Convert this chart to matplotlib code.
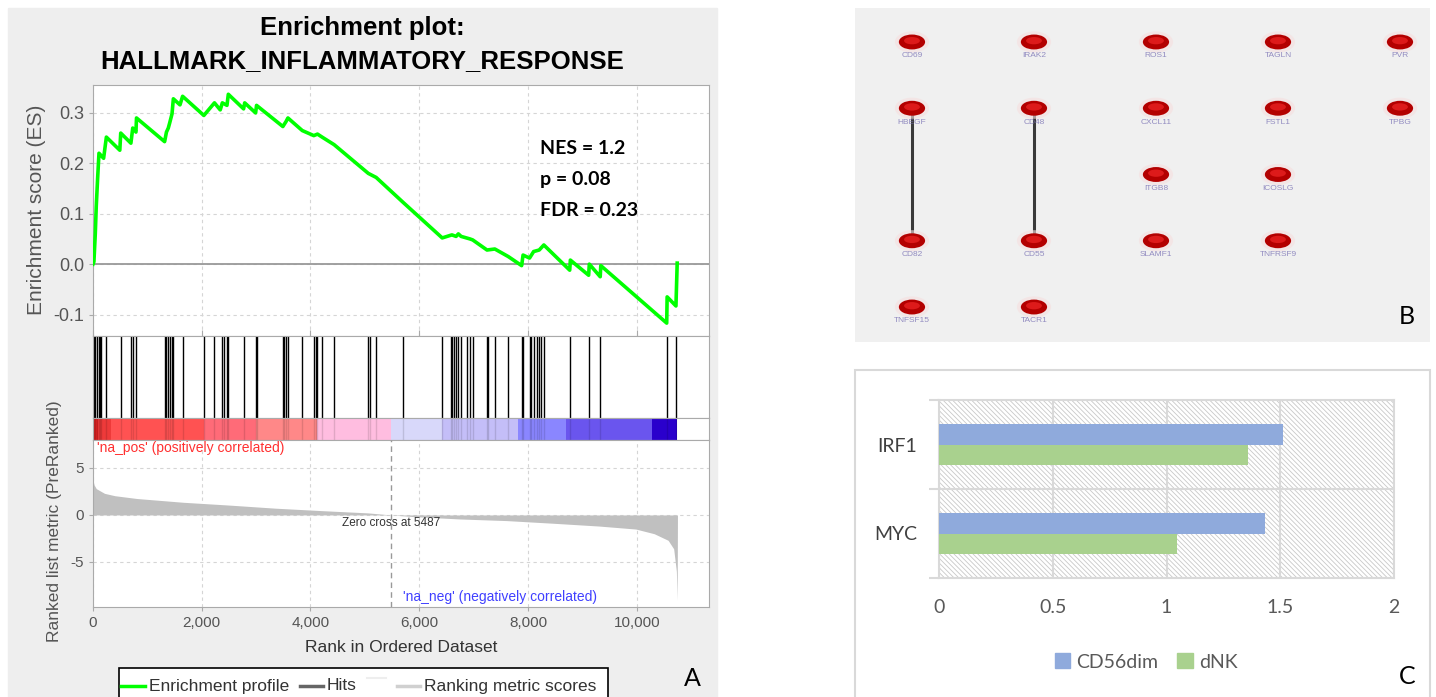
import matplotlib
matplotlib.use("Agg")
import matplotlib.pyplot as plt
from matplotlib.patches import Rectangle, Ellipse, Patch
from matplotlib.lines import Line2D

plt.rcParams['font.family'] = ['Liberation Sans', 'DejaVu Sans']
plt.rcParams['hatch.linewidth'] = 0.6

W, H = 1436, 697

# ---------------- panel A: GSEA enrichment plot ----------------
es_points = [
    (0, 0.0), (17, 0.005), (42, 0.06), (60, 0.115), (85, 0.17), (110, 0.22),
    (195, 0.21), (246, 0.252), (493, 0.226), (510, 0.26), (697, 0.24),
    (731, 0.27), (790, 0.262), (800, 0.29), (1317, 0.243), (1351, 0.262),
    (1385, 0.27), (1410, 0.28), (1453, 0.298), (1478, 0.328), (1600, 0.316),
    (1648, 0.333), (2039, 0.295), (2234, 0.32), (2340, 0.306), (2379, 0.32),
    (2464, 0.315), (2489, 0.337), (2770, 0.308), (2790, 0.32), (2991, 0.3),
    (3008, 0.315), (3492, 0.273), (3551, 0.283), (3585, 0.29), (3849, 0.265),
    (4061, 0.255), (4129, 0.258), (4214, 0.252), (4435, 0.237), (5064, 0.18),
    (5208, 0.172), (5709, 0.122), (6423, 0.052), (6601, 0.058), (6678, 0.055),
    (6720, 0.06), (6771, 0.055), (6933, 0.05), (6984, 0.048), (7247, 0.028),
    (7391, 0.03), (7638, 0.015), (7884, -0.003), (7910, 0.018), (8029, 0.012),
    (8105, 0.025), (8207, 0.028), (8292, 0.038), (8768, -0.012), (8780, 0.008),
    (9116, -0.022), (9129, 0.0), (9329, -0.025), (9340, -0.003),
    (10552, -0.117), (10560, -0.065), (10722, -0.083), (10745, 0.002),
]
es_rank = [p[0] for p in es_points]
es_value = [p[1] for p in es_points]

hit_ranks = [17, 42, 68, 102, 127, 144, 246, 510, 697, 731, 799, 1317, 1351,
             1385, 1410, 1453, 1478, 1648, 2039, 2234, 2379, 2404, 2464, 2489,
             2770, 2991, 3008, 3492, 3517, 3551, 3585, 3849, 4061, 4095, 4129,
             4214, 4435, 5064, 5089, 5208, 5709, 6423, 6576, 6601, 6644, 6678,
             6720, 6771, 6882, 6933, 6984, 7247, 7273, 7391, 7638, 7884, 7910,
             8029, 8054, 8105, 8165, 8207, 8233, 8292, 8768, 9116, 9329, 10552,
             10722]

metric_rank = [0, 20, 60, 212, 400, 807, 1657, 2506, 3356, 4205, 5055, 5487,
               5905, 6755, 7604, 8454, 9303, 9983, 10323, 10578, 10680, 10730,
               10745, 10750]
metric_value = [3.7, 3.2, 2.8, 2.3, 2.05, 1.75, 1.35, 1.05, 0.72, 0.46, 0.22,
                0.0, -0.18, -0.43, -0.6, -0.88, -1.18, -1.5, -2.0, -2.7, -3.6,
                -6.0, -9.1, 0.0]

band_edges = [0, 85, 340, 2039, 2991, 4120, 5487, 6414, 7816, 8691, 10280, 10750]
band_colors = ['#dd2222', '#ee3a3a', '#ff5252', '#ff6b78', '#ff8888', '#ffbde0',
               '#d8d8fa', '#c4bef8', '#8a86ff', '#6a55ee', '#2a00cc']

zero_cross = 5487
es_ticks = [-0.1, 0.0, 0.1, 0.2, 0.3]
metric_ticks = [-5, 0, 5]
rank_ticks = [0, 2000, 4000, 6000, 8000, 10000]
stats_lines = ["NES = 1.2", "p = 0.08", "FDR = 0.23"]

# ---------------- panel B: network ----------------
node_names = ["CD69", "IRAK2", "ROS1", "TAGLN", "PVR",
              "HBEGF", "CD48", "CXCL11", "FSTL1", "TPBG",
              "ITGB8", "ICOSLG",
              "CD82", "CD55", "SLAMF1", "TNFRSF9",
              "TNFSF15", "TACR1"]
node_col = [0, 1, 2, 3, 4, 0, 1, 2, 3, 4, 2, 3, 0, 1, 2, 3, 0, 1]
node_row = [0, 0, 0, 0, 0, 1, 1, 1, 1, 1, 2, 2, 3, 3, 3, 3, 4, 4]
node_edges = [("HBEGF", "CD82"), ("CD48", "CD55")]

# ---------------- panel C: bar chart ----------------
genes_c = ["MYC", "IRF1"]
cd56dim = [1.435, 1.513]
dnk = [1.045, 1.36]
c_ticks = [0, 0.5, 1, 1.5, 2]
c_labels = ["0", "0.5", "1", "1.5", "2"]


def box(x0, y0, x1, y1):
    return [x0 / W, 1 - y1 / H, (x1 - x0) / W, (y1 - y0) / H]


fig = plt.figure(figsize=(W / 100, H / 100), dpi=100)


def ftext(x, y, s, **kw):
    fig.text(x / W, 1 - y / H, s, **kw)


# background of panel A
fig.add_artist(Rectangle((8 / W, 0), (717 - 8) / W, 1 - 8 / H,
                         transform=fig.transFigure, color='#eeeeee', zorder=0))

ftext(362, 28, "Enrichment plot:", ha='center', va='center',
      fontsize=18.5, fontweight='bold', color='black')
ftext(362, 61, "HALLMARK_INFLAMMATORY_RESPONSE", ha='center', va='center',
      fontsize=18.5, fontweight='bold', color='black')

xmax = 11330
spine_col = '#aaaaaa'

# ES curve
ax1 = fig.add_axes(box(93, 85, 709, 336))
ax1.plot(es_rank, es_value, color='#00ff00', lw=2.6, zorder=3)
ax1.axhline(0, color='#999999', lw=1.3, zorder=2)
ax1.set_xlim(0, xmax)
ax1.set_ylim(-0.1426, 0.3554)
ax1.set_xticks(rank_ticks)
ax1.set_yticks(es_ticks)
ax1.set_yticklabels([f"{v:.1f}" for v in es_ticks])
ax1.grid(True, ls=(0, (3, 3)), color='#d5d5d5', lw=0.8)
ax1.tick_params(axis='x', labelbottom=False, direction='in', length=4, color=spine_col)
ax1.tick_params(axis='y', labelsize=13, labelcolor='#555555', length=3, color=spine_col)
for s in ax1.spines.values():
    s.set_color(spine_col)
for y, s in zip([148, 180, 211], stats_lines):
    ftext(540, y, s, ha='left', va='center', fontsize=14, fontweight='bold',
          family=['Lato', 'DejaVu Sans'], color='black')
ftext(37, 210, "Enrichment score (ES)", rotation=90, ha='center', va='center',
      fontsize=15, color='#555555')

# hits
ax2 = fig.add_axes(box(93, 336, 709, 418))
ax2.vlines(hit_ranks, 0, 1, color='black', lw=1)
ax2.set_xlim(0, xmax)
ax2.set_ylim(0, 1)
ax2.set_xticks([])
ax2.set_yticks([])
for s in ax2.spines.values():
    s.set_color(spine_col)

# ranking colour band
ax3 = fig.add_axes(box(93, 418, 709, 440))
for i, c in enumerate(band_colors):
    ax3.axvspan(band_edges[i], band_edges[i + 1], color=c, lw=0)
ax3.vlines(hit_ranks, 0, 1, color='black', lw=1, alpha=0.12)
ax3.set_xlim(0, xmax)
ax3.set_ylim(0, 1)
ax3.set_xticks([])
ax3.set_yticks([])
for s in ax3.spines.values():
    s.set_color(spine_col)

# ranked list metric
ax4 = fig.add_axes(box(93, 440, 709, 607))
ax4.fill_between(metric_rank, metric_value, 0, color='#c0c0c0', lw=0, zorder=2)
ax4.axvline(zero_cross, ls=(0, (4, 3)), color='#999999', lw=1, zorder=3)
ax4.set_xlim(0, xmax)
ax4.set_ylim(-9.8, 7.98)
ax4.set_xticks(rank_ticks)
ax4.set_xticklabels([f"{v:,}" for v in rank_ticks])
ax4.set_yticks(metric_ticks)
ax4.set_yticklabels([str(v) for v in metric_ticks])
ax4.grid(True, ls=(0, (3, 3)), color='#d5d5d5', lw=0.8)
ax4.tick_params(labelsize=11, labelcolor='#555555', length=3, color=spine_col)
for s in ax4.spines.values():
    s.set_color(spine_col)
ax4.text(zero_cross, -0.85, f"Zero cross at {zero_cross}", ha='center',
         va='center', fontsize=8.5, color='#333333', zorder=4)
ax4.text(70, 7.1, "'na_pos' (positively correlated)", ha='left', va='center',
         fontsize=10, color='#ff3030')
ax4.text(5695, -8.7, "'na_neg' (negatively correlated)", ha='left', va='center',
         fontsize=10, color='#4040ff')
ftext(55, 521, "Ranked list metric (PreRanked)", rotation=90, ha='center',
      va='center', fontsize=12.5, color='#555555')
ftext(401, 647, "Rank in Ordered Dataset", ha='center', va='center',
      fontsize=12.5, color='#333333')

# legend box of panel A
fig.add_artist(Rectangle((119 / W, 1 - 710 / H), (608 - 119) / W, (710 - 668) / H,
                         transform=fig.transFigure, facecolor='white',
                         edgecolor='black', lw=1.2, zorder=5))
leg_items = [(121, 145, '#00ff00', "Enrichment profile"),
             (300, 323, '#666666', "Hits"),
             (397, 420, '#d0d0d0', "Ranking metric scores")]
for x0, x1, col, label in leg_items:
    fig.add_artist(Line2D([x0 / W, x1 / W], [1 - 686 / H, 1 - 686 / H],
                          transform=fig.transFigure, color=col, lw=2.5, zorder=6))
    ftext(x1 + 4, 686, label, ha='left', va='center', fontsize=12.5,
          color='#333333', zorder=6)
fig.add_artist(Line2D([367 / W, 386 / W], [1 - 678 / H, 1 - 678 / H],
                      transform=fig.transFigure, color='#eeeeee', lw=1.5, zorder=6))
ftext(692, 678, "A", ha='center', va='center', fontsize=18,
      family=['Lato', 'DejaVu Sans'], color='black')

# ---------------- panel B ----------------
axb = fig.add_axes(box(855, 8, 1430, 342))
axb.set_facecolor('#f0f0f0')
axb.set_xlim(-0.467, 4.246)
axb.set_ylim(4.528, -0.513)
axb.set_xticks([])
axb.set_yticks([])
for s in axb.spines.values():
    s.set_visible(False)
pos = {n: (c, r) for n, c, r in zip(node_names, node_col, node_row)}
for a, b in node_edges:
    axb.plot([pos[a][0], pos[b][0]], [pos[a][1], pos[b][1]],
             color='#3a3a3a', lw=2.2, zorder=1)
for n, c, r in zip(node_names, node_col, node_row):
    axb.add_patch(Ellipse((c, r), 0.28, 0.32, facecolor='#f6dede', lw=0,
                          alpha=0.6, zorder=2))
    axb.add_patch(Ellipse((c, r), 0.215, 0.225, facecolor='#b30000', lw=0, zorder=3))
    axb.add_patch(Ellipse((c, r - 0.02), 0.13, 0.11, facecolor='#dd1a1a', lw=0,
                          zorder=4))
    axb.text(c, r + 0.21, n, ha='center', va='center', fontsize=6,
             color='#7b73b5', alpha=0.8, zorder=5)
ftext(1407, 316, "B", ha='center', va='center', fontsize=18,
      family=['Lato', 'DejaVu Sans'], color='black')

# ---------------- panel C ----------------
fig.add_artist(Rectangle((855 / W, 1 - 705 / H), (1430 - 855) / W, (705 - 370) / H,
                         transform=fig.transFigure, facecolor='white',
                         edgecolor='#d9d9d9', lw=1.5, zorder=0))
axc = fig.add_axes(box(939, 400, 1394, 578))
axc.set_axisbelow(True)
axc.add_patch(Rectangle((0, 0), 1, 1, transform=axc.transAxes, facecolor='white',
                        edgecolor='#c8c8c8', hatch='\\\\\\\\\\\\\\', lw=0, zorder=0))
yc = list(range(len(genes_c)))
axc.barh([y + 0.1125 for y in yc], cd56dim, height=0.225, color='#8faadc', zorder=3)
axc.barh([y - 0.1125 for y in yc], dnk, height=0.225, color='#a9d18e', zorder=3)
axc.set_xlim(0, 2)
axc.set_ylim(-0.5, 1.5)
axc.set_xticks(c_ticks)
axc.set_xticklabels(c_labels)
axc.grid(axis='x', color='#d9d9d9', lw=1.5, zorder=1)
axc.axhline(0.5, color='#d9d9d9', lw=1.5, zorder=1)
axc.set_yticks(yc)
axc.set_yticklabels(genes_c)
axc.set_yticks([-0.5, 0.5, 1.5], minor=True)
axc.tick_params(axis='y', which='major', length=0, pad=16, labelsize=14,
                labelcolor='#404040')
axc.tick_params(axis='y', which='minor', length=7, width=1.5, color='#d9d9d9')
axc.tick_params(axis='x', length=0, pad=15, labelsize=14, labelcolor='#595959')
for lab in axc.get_xticklabels() + axc.get_yticklabels():
    lab.set_family(['Lato', 'DejaVu Sans'])
for s in axc.spines.values():
    s.set_color('#d9d9d9')
    s.set_linewidth(1.5)
fig.legend(handles=[Patch(color='#8faadc', label='CD56dim'),
                    Patch(color='#a9d18e', label='dNK')],
           loc='center', bbox_to_anchor=(1146 / W, 1 - 662 / H), ncol=2,
           frameon=False, handlelength=0.8, handleheight=0.8, handletextpad=0.3,
           columnspacing=1.0, labelcolor='#595959',
           prop={'family': ['Lato', 'DejaVu Sans'], 'size': 14})
ftext(1407, 677, "C", ha='center', va='center', fontsize=18,
      family=['Lato', 'DejaVu Sans'], color='black')

fig.savefig("out.png", dpi=100)
